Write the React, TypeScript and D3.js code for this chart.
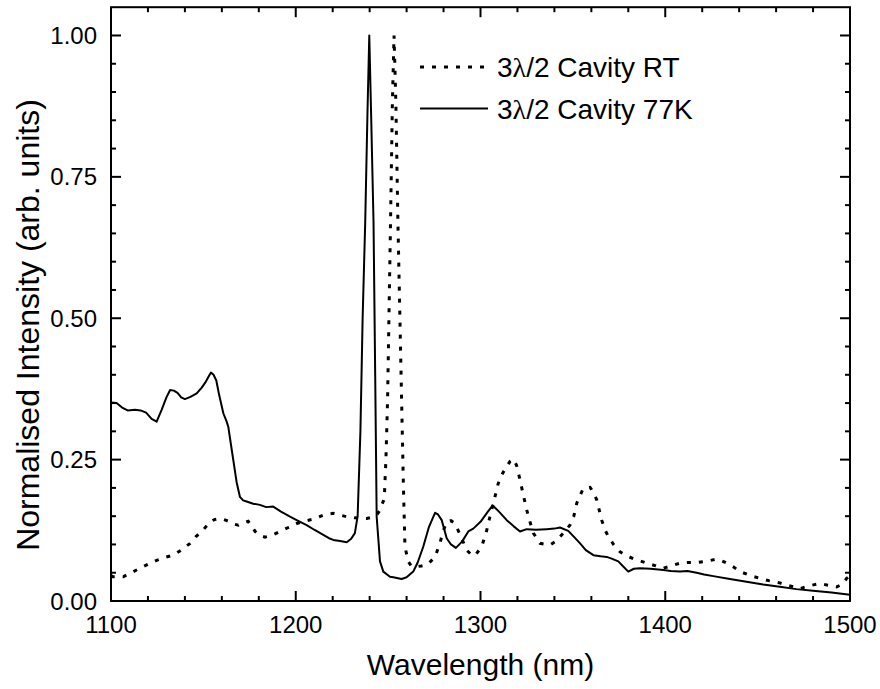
import React from "react";
import * as d3 from "d3";

const rtWavelength = [1100, 1101, 1106.7, 1111, 1115.7, 1120, 1124.7, 1129, 1133.7, 1138, 1142.8, 1146, 1150, 1153.6, 1156, 1159, 1162, 1164.4, 1166.5, 1168.9, 1171.5, 1174.3, 1176, 1178, 1180.5, 1183.4, 1187, 1191.5, 1196, 1200.5, 1204.5, 1208.6, 1212, 1214.9, 1218, 1220.3, 1224, 1227.6, 1232, 1238.4, 1241, 1243.8, 1245.5, 1246.5, 1247.9, 1248.8, 1249.7, 1251.3, 1252.3, 1253.2, 1254.2, 1255.3, 1257.3, 1258.3, 1259.1, 1260.9, 1262.5, 1265.5, 1268, 1270.9, 1273, 1275.4, 1278, 1280, 1281.7, 1284, 1286.2, 1289, 1292.5, 1295, 1297, 1300.6, 1303, 1305.1, 1307.5, 1309.6, 1312, 1314.2, 1316, 1317.8, 1319.5, 1321.4, 1323, 1325, 1326.8, 1328.6, 1332.2, 1337.6, 1341, 1344, 1348.4, 1350.5, 1352.1, 1355.6, 1359.3, 1361, 1362.9, 1365.6, 1367.5, 1369.2, 1372, 1375.5, 1379, 1382.7, 1390, 1395, 1399, 1403, 1408, 1412, 1417, 1422, 1427.8, 1430, 1433.3, 1437, 1440.5, 1446, 1451.3, 1456, 1462, 1467, 1473, 1478, 1483.8, 1488, 1492.8, 1496, 1498.2, 1500];
const rtIntensity = [0.045, 0.043, 0.043, 0.05, 0.058, 0.065, 0.072, 0.077, 0.081, 0.09, 0.102, 0.114, 0.126, 0.14, 0.144, 0.146, 0.143, 0.14, 0.136, 0.134, 0.138, 0.141, 0.133, 0.123, 0.116, 0.113, 0.116, 0.123, 0.13, 0.137, 0.141, 0.144, 0.148, 0.152, 0.154, 0.155, 0.152, 0.149, 0.147, 0.146, 0.148, 0.152, 0.16, 0.17, 0.18, 0.25, 0.355, 0.67, 0.88, 1.0, 0.88, 0.67, 0.355, 0.2, 0.096, 0.07, 0.062, 0.061, 0.062, 0.064, 0.07, 0.078, 0.102, 0.125, 0.14, 0.142, 0.137, 0.117, 0.09, 0.082, 0.08, 0.096, 0.12, 0.149, 0.18, 0.208, 0.226, 0.238, 0.247, 0.251, 0.24, 0.214, 0.19, 0.161, 0.14, 0.12, 0.102, 0.099, 0.106, 0.117, 0.134, 0.15, 0.173, 0.199, 0.201, 0.193, 0.179, 0.143, 0.125, 0.114, 0.1, 0.087, 0.08, 0.075, 0.067, 0.062, 0.058, 0.062, 0.067, 0.068, 0.068, 0.07, 0.074, 0.072, 0.067, 0.06, 0.052, 0.045, 0.04, 0.036, 0.032, 0.027, 0.022, 0.027, 0.031, 0.028, 0.025, 0.03, 0.04, 0.045];

const k77Wavelength = [1100, 1103, 1106, 1109, 1113, 1116, 1119, 1122, 1124.7, 1127.4, 1130, 1132, 1134, 1136, 1138, 1140, 1143, 1146.4, 1149, 1151, 1153, 1154.1, 1155.5, 1157, 1158.5, 1160.8, 1162.5, 1163.5, 1165, 1166.2, 1168, 1169.8, 1171.5, 1173.4, 1177, 1180.6, 1184, 1187.8, 1192, 1196.9, 1201, 1205.9, 1210, 1214.9, 1218, 1220.3, 1224, 1227.6, 1230, 1232, 1233.5, 1235, 1236.2, 1237.6, 1238.8, 1239.8, 1240.8, 1242.1, 1243, 1243.8, 1245.6, 1247.4, 1251, 1252.8, 1257.3, 1260, 1263.6, 1266, 1269, 1272, 1275.4, 1277, 1279, 1281.7, 1284, 1286.7, 1290, 1293.4, 1296.1, 1300, 1304, 1306.6, 1310, 1314.2, 1318, 1321.4, 1325, 1330, 1335.8, 1340, 1343, 1347.5, 1351, 1353.9, 1357, 1361.1, 1365, 1368.3, 1371, 1374.6, 1377, 1380, 1383, 1386.3, 1392, 1399, 1403, 1408, 1412, 1417, 1421, 1426, 1435, 1444, 1453, 1462, 1471, 1480, 1490, 1500];
const k77Intensity = [0.351, 0.35, 0.342, 0.337, 0.338, 0.337, 0.333, 0.322, 0.317, 0.338, 0.36, 0.373, 0.372, 0.368, 0.36, 0.357, 0.361, 0.367, 0.377, 0.386, 0.398, 0.404, 0.4, 0.39, 0.365, 0.332, 0.318, 0.308, 0.275, 0.249, 0.21, 0.184, 0.178, 0.176, 0.172, 0.17, 0.166, 0.167, 0.158, 0.149, 0.142, 0.134, 0.126, 0.117, 0.111, 0.108, 0.106, 0.104, 0.11, 0.12, 0.15, 0.3, 0.5, 0.67, 0.86, 1.0, 0.86, 0.67, 0.4, 0.149, 0.07, 0.052, 0.043, 0.042, 0.039, 0.042, 0.052, 0.068, 0.096, 0.13, 0.156, 0.153, 0.143, 0.111, 0.1, 0.094, 0.105, 0.123, 0.128, 0.14, 0.158, 0.169, 0.158, 0.143, 0.132, 0.123, 0.127, 0.126, 0.127, 0.128, 0.13, 0.124, 0.112, 0.102, 0.09, 0.081, 0.079, 0.078, 0.075, 0.07, 0.062, 0.052, 0.057, 0.058, 0.057, 0.055, 0.053, 0.052, 0.053, 0.05, 0.047, 0.044, 0.039, 0.034, 0.029, 0.025, 0.021, 0.018, 0.015, 0.011];

const xTickValues = [1100, 1200, 1300, 1400, 1500];
const yTickValues = [0, 0.25, 0.5, 0.75, 1.0];
const xLabel = "Wavelength (nm)";
const yLabel = "Normalised Intensity (arb. units)";
const legendLabels = ["Cavity RT", "Cavity 77K"];

const W = 880;
const H = 689;
const left = 111;
const right = 850;
const top = 7.2;
const bottom = 601;
const FONT = "'Liberation Sans', Arial, Helvetica, sans-serif";

export default function App() {
  const x = d3.scaleLinear().domain([1100, 1500]).range([left, right]);
  const y = d3.scaleLinear().domain([0, 1.05]).range([bottom, top]);

  const mk = (xs: number[], ys: number[]) =>
    d3
      .line<number>()
      .x((_, i) => x(xs[i]))
      .y((_, i) => y(ys[i]))(xs) || "";

  const rtPath = mk(rtWavelength, rtIntensity);
  const k77Path = mk(k77Wavelength, k77Intensity);

  const xMinor = d3.range(1100, 1501, 20).filter((v) => v % 100 !== 0);
  const yMinor = d3
    .range(0, 21)
    .map((i) => i * 0.05)
    .filter((v) => Math.abs(v / 0.25 - Math.round(v / 0.25)) > 1e-6);
  const majorLen = 10;
  const minorLen = 5;

  return (
    <svg
      width={W}
      height={H}
      style={{ position: "absolute", left: 0, top: 0, background: "#fff" }}
      fontFamily={FONT}
    >
      <rect x={0} y={0} width={W} height={H} fill="#fff" />
      <defs>
        <clipPath id="plotclip">
          <rect x={left} y={top} width={right - left} height={bottom - top} />
        </clipPath>
      </defs>
      <g clipPath="url(#plotclip)">
        <path d={rtPath} fill="none" stroke="#000" strokeWidth={3} strokeDasharray="4,8" />
        <path d={k77Path} fill="none" stroke="#000" strokeWidth={2} strokeLinejoin="round" />
      </g>
      <rect x={left} y={top} width={right - left} height={bottom - top} fill="none" stroke="#000" strokeWidth={2} />
      {xTickValues.map((v) => (
        <g key={"xt" + v}>
          <line x1={x(v)} x2={x(v)} y1={bottom} y2={bottom - majorLen} stroke="#000" strokeWidth={2} />
          <line x1={x(v)} x2={x(v)} y1={top} y2={top + majorLen} stroke="#000" strokeWidth={2} />
          <text x={x(v)} y={633} textAnchor="middle" fontSize={24}>
            {v}
          </text>
        </g>
      ))}
      {xMinor.map((v) => (
        <g key={"xm" + v}>
          <line x1={x(v)} x2={x(v)} y1={bottom} y2={bottom - minorLen} stroke="#000" strokeWidth={2} />
          <line x1={x(v)} x2={x(v)} y1={top} y2={top + minorLen} stroke="#000" strokeWidth={2} />
        </g>
      ))}
      {yTickValues.map((v) => (
        <g key={"yt" + v}>
          <line x1={left} x2={left + majorLen} y1={y(v)} y2={y(v)} stroke="#000" strokeWidth={2} />
          <line x1={right} x2={right - majorLen} y1={y(v)} y2={y(v)} stroke="#000" strokeWidth={2} />
          <text x={97} y={y(v) + 8.5} textAnchor="end" fontSize={24}>
            {d3.format(".2f")(v)}
          </text>
        </g>
      ))}
      {yMinor.map((v) => (
        <g key={"ym" + v}>
          <line x1={left} x2={left + minorLen} y1={y(v)} y2={y(v)} stroke="#000" strokeWidth={2} />
          <line x1={right} x2={right - minorLen} y1={y(v)} y2={y(v)} stroke="#000" strokeWidth={2} />
        </g>
      ))}
      <text x={(left + right) / 2} y={675} textAnchor="middle" fontSize={30}>
        {xLabel}
      </text>
      <text transform={`translate(39, 325) rotate(-90)`} textAnchor="middle" fontSize={32}>
        {yLabel}
      </text>
      <line x1={420} x2={488} y1={67} y2={67} stroke="#000" strokeWidth={3} strokeDasharray="4,8" />
      <text x={497} y={77} fontSize={28}>
        <tspan>3</tspan>
        <tspan fontFamily="'Liberation Serif', 'Times New Roman', serif">λ</tspan>
        <tspan>/2 {legendLabels[0]}</tspan>
      </text>
      <line x1={420} x2={488} y1={108.5} y2={108.5} stroke="#000" strokeWidth={2} />
      <text x={497} y={118.5} fontSize={28}>
        <tspan>3</tspan>
        <tspan fontFamily="'Liberation Serif', 'Times New Roman', serif">λ</tspan>
        <tspan>/2 {legendLabels[1]}</tspan>
      </text>
    </svg>
  );
}
